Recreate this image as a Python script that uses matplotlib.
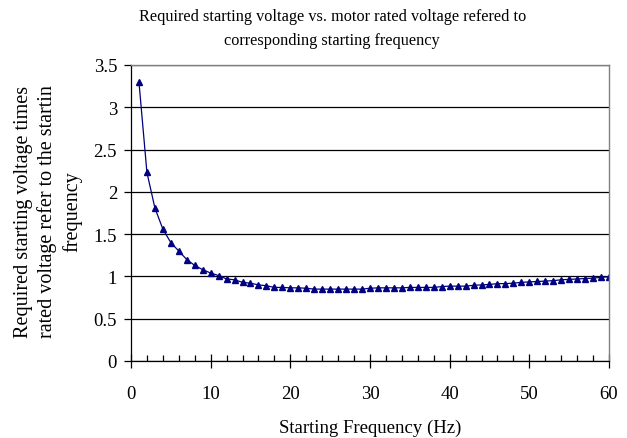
import numpy as np
import matplotlib.pyplot as plt
from matplotlib.ticker import MultipleLocator

# starting frequency (Hz) and required voltage ratio
freq = list(range(1, 61))
ratio = [3.30, 2.23, 1.81, 1.56, 1.40, 1.30, 1.20, 1.13, 1.08, 1.04,
         1.01, 0.97, 0.96, 0.93, 0.92, 0.90, 0.89, 0.87, 0.87, 0.865,
         0.865, 0.86, 0.85, 0.85, 0.85, 0.85, 0.85, 0.85, 0.85, 0.86,
         0.865, 0.865, 0.865, 0.865, 0.87, 0.87, 0.87, 0.87, 0.88, 0.885,
         0.885, 0.885, 0.895, 0.90, 0.905, 0.915, 0.915, 0.92, 0.93, 0.935,
         0.94, 0.945, 0.95, 0.96, 0.965, 0.97, 0.975, 0.98, 0.99, 0.995]
xticks = [0, 10, 20, 30, 40, 50, 60]
yticks = [0, 0.5, 1, 1.5, 2, 2.5, 3, 3.5]

plt.rcParams['font.family'] = ['Liberation Serif', 'DejaVu Serif']
plt.rcParams['font.size'] = 13.5

fig = plt.figure(figsize=(6.27, 4.39), dpi=100)
ax = fig.add_axes([0.2089, 0.1754, 0.7624, 0.6743])

ax.plot(freq, ratio, color='#000080', lw=0.9, marker='^', ms=4,
        markerfacecolor='#000080', markeredgecolor='#000080')

ax.set_xlim(0, 60)
ax.set_ylim(0, 3.5)
ax.set_xticks(xticks)
ax.xaxis.set_minor_locator(MultipleLocator(2))
ax.set_yticks(yticks)
ax.set_yticklabels(['0', '0.5', '1', '1.5', '2', '2.5', '3', '3.5'])
ax.grid(axis='y', color='black', lw=0.9)
ax.set_axisbelow(True)
ax.tick_params(axis='x', which='major', direction='inout', length=10, width=0.9, pad=12)
ax.tick_params(axis='x', which='minor', direction='in', length=4, width=0.9)
ax.tick_params(axis='y', direction='out', length=5, width=0.9, pad=5)

for s in ['top', 'right']:
    ax.spines[s].set_color('#808080')
    ax.spines[s].set_linewidth(1.0)
for s in ['left', 'bottom']:
    ax.spines[s].set_color('black')
    ax.spines[s].set_linewidth(0.9)

ax.set_xlabel('Starting Frequency (Hz)', labelpad=12)
fig.text(0.53, 1 - 29 / 439,
         'Required starting voltage vs. motor rated voltage refered to\ncorresponding starting frequency',
         ha='center', va='center', fontsize=11.7, linespacing=1.7)
fig.text(48 / 627, 1 - 212 / 439,
         'Required starting voltage times\nrated voltage refer to the startin\nfrequency',
         rotation=90, ha='center', va='center', multialignment='center',
         fontsize=14.5, linespacing=1.3)

fig.savefig('out.png', dpi=100)
